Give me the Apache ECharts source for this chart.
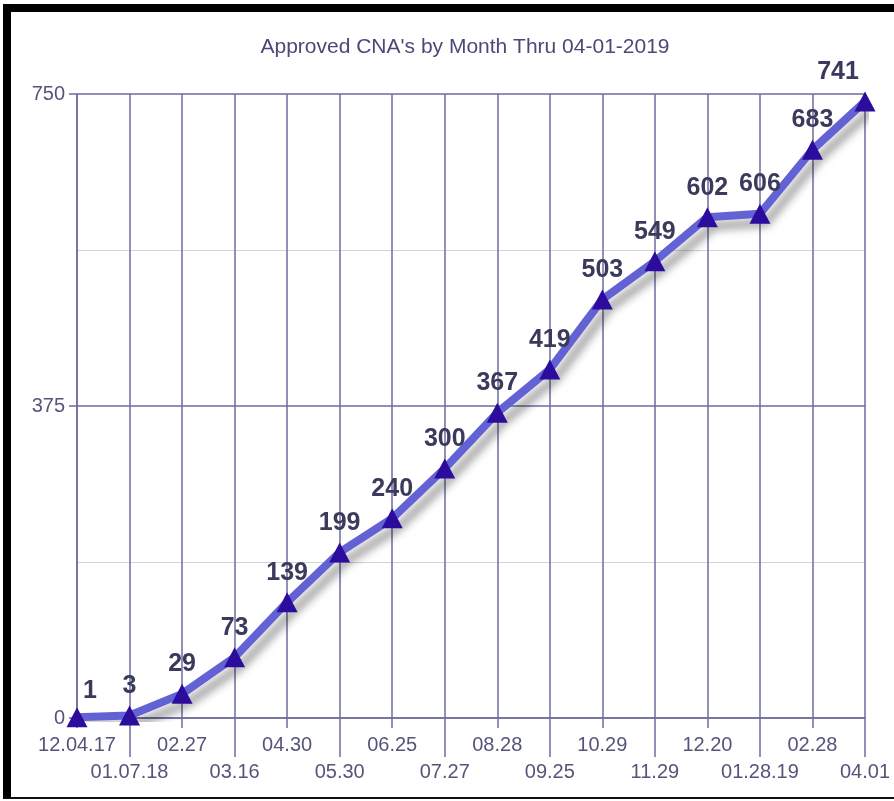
<!DOCTYPE html>
<html>
<head>
<meta charset="utf-8">
<script src="https://cdn.jsdelivr.net/npm/echarts@6/dist/echarts.min.js"></script>
<style>
  html, body { margin: 0; padding: 0; background: #fff; }
  #chart { position: absolute; left: 0; top: 0; width: 894px; height: 801px; }
  #frame {
    position: absolute; left: 3px; top: 4px; width: 891px; height: 795px;
    box-sizing: border-box; pointer-events: none;
    border-top: 8px solid #000; border-left: 8px solid #000; border-bottom: 2px solid #111;
  }
</style>
</head>
<body>
<div id="chart"></div>
<div id="frame"></div>
<script>
// 日期（横轴）
var dates = ['12.04.17', '01.07.18', '02.27', '03.16', '04.30', '05.30', '06.25', '07.27',
             '08.28', '09.25', '10.29', '11.29', '12.20', '01.28.19', '02.28', '04.01'];
// 累计批准数
var approved = [1, 3, 29, 73, 139, 199, 240, 300, 367, 419, 503, 549, 602, 606, 683, 741];
var yMin = 0, yMax = 750, yStep = 375;

var gridColor = '#6c6ca0';
var textColor = '#55557a';

// 首尾标签稍作偏移，避免压到边框
var seriesData = approved.map(function (v, i) {
    if (i === 0) return { value: v, label: { offset: [13, 3] } };
    if (i === approved.length - 1) return { value: v, label: { offset: [-27, 0] } };
    return v;
});

var option = {
    animation: false,
    backgroundColor: '#fff',
    title: {
        text: "Approved CNA's by Month Thru 04-01-2019",
        left: 460,
        textAlign: 'center',
        top: 32,
        textStyle: { fontFamily: 'Liberation Sans', fontSize: 21, fontWeight: 'normal', color: '#4a4a78' }
    },
    grid: { left: 77, right: 29, top: 94, bottom: 83 },
    xAxis: [
        {
            type: 'category',
            data: dates,
            boundaryGap: false,
            axisLine: { lineStyle: { color: gridColor, width: 1.5 } },
            axisTick: { interval: 0, length: 10, lineStyle: { color: gridColor, width: 1.5 } },
            splitLine: { show: true, interval: 0, lineStyle: { color: gridColor, width: 1.5 } },
            axisLabel: {
                interval: function (idx) { return idx % 2 === 0; },
                margin: 17,
                fontFamily: 'Liberation Sans', fontSize: 20, color: textColor
            }
        },
        {
            type: 'category',
            data: dates,
            boundaryGap: false,
            position: 'bottom',
            axisLine: { show: false },
            axisTick: {
                interval: function (idx) { return idx % 2 === 1; },
                length: 39,
                lineStyle: { color: gridColor, width: 1.5 }
            },
            splitLine: { show: false },
            axisLabel: {
                interval: function (idx) { return idx % 2 === 1; },
                margin: 44,
                fontFamily: 'Liberation Sans', fontSize: 20, color: textColor
            }
        }
    ],
    yAxis: {
        type: 'value',
        min: yMin,
        max: yMax,
        interval: yStep,
        axisLine: { show: true, lineStyle: { color: gridColor, width: 1.5 } },
        axisTick: { show: true, length: 8, lineStyle: { color: gridColor, width: 1.5 } },
        minorTick: { show: false, splitNumber: 2 },
        minorSplitLine: { show: true, lineStyle: { color: '#d2d2de', width: 1 } },
        splitLine: { lineStyle: { color: gridColor, width: 1.5 } },
        axisLabel: { margin: 12, fontFamily: 'Liberation Sans', fontSize: 20, color: textColor }
    },
    series: [
        {
            name: 'Approved CNA',
            type: 'line',
            xAxisIndex: 0,
            data: seriesData,
            symbol: 'triangle',
            symbolSize: [21, 20],
            lineStyle: {
                color: '#6262d4',
                width: 8,
                shadowColor: 'rgba(0,0,0,0.38)',
                shadowBlur: 8,
                shadowOffsetX: 6,
                shadowOffsetY: 9
            },
            itemStyle: { color: '#2b0c9c', borderWidth: 0 },
            label: {
                show: true,
                position: 'top',
                distance: 7,
                fontFamily: 'Liberation Sans',
                fontSize: 25,
                fontWeight: 'bold',
                color: '#3a3a5c'
            },
            z: 5
        }
    ]
};

var chart = echarts.init(document.getElementById('chart'));
chart.setOption(option);
</script>
</body>
</html>
